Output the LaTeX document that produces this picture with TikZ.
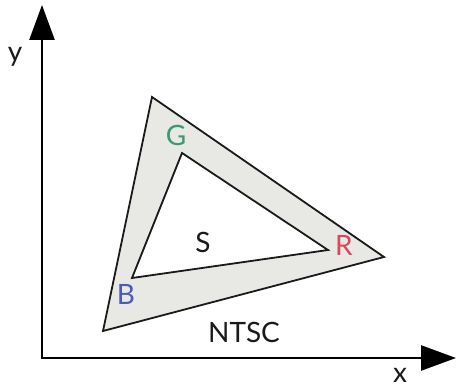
\documentclass[tikz,border=0pt]{standalone}
\usepackage{fontspec}
\setmainfont{Lato}
\usetikzlibrary{arrows.meta}
\definecolor{fillgrey}{HTML}{E8E8E5}
\definecolor{gcol}{HTML}{3A9A70}
\definecolor{rcol}{HTML}{D8475A}
\definecolor{bcol}{HTML}{4A5DB0}
\definecolor{ink}{HTML}{1A1A1A}
\tikzset{
  axis/.style={line width=2.6pt, draw=black, -{Triangle[length=35pt,width=25pt]}},
  tri/.style={line width=1.8pt, draw=ink, line join=miter},
  lbl/.style={font=\fontsize{28}{32}\selectfont, inner sep=0pt, text=ink},
}
\begin{document}
\begin{tikzpicture}[x=1pt,y=-1pt]
\useasboundingbox (0,0) rectangle (456,390);
\coordinate (O) at (42,358);
\coordinate (Ytip) at (42,5);
\coordinate (Xtip) at (456,358);
% outer triangle
\coordinate (T1) at (152,97);
\coordinate (T2) at (384,257);
\coordinate (T3) at (103,331);
% inner triangle
\coordinate (G) at (182,153);
\coordinate (R) at (328,250);
\coordinate (B) at (132,278);
\draw[tri, fill=fillgrey] (T1) -- (T2) -- (T3) -- cycle;
\draw[tri, fill=white] (G) -- (R) -- (B) -- cycle;
\draw[axis] ([xshift=-1.3pt]O) -- (Xtip);
\draw[axis] ([yshift=1.3pt]O) -- (Ytip);
\node[lbl] (ly) at (15,57) {y};
\node[lbl] (lx) at (400,375) {x};
\node[lbl, text=gcol] (lG) at (176,135) {G};
\node[lbl, text=rcol] (lR) at (344,245) {R};
\node[lbl, text=bcol] (lB) at (126,294) {B};
\node[lbl] (lS) at (203,242) {S};
\node[lbl] (lN) at (244,332) {NTSC};
\end{tikzpicture}
\end{document}
